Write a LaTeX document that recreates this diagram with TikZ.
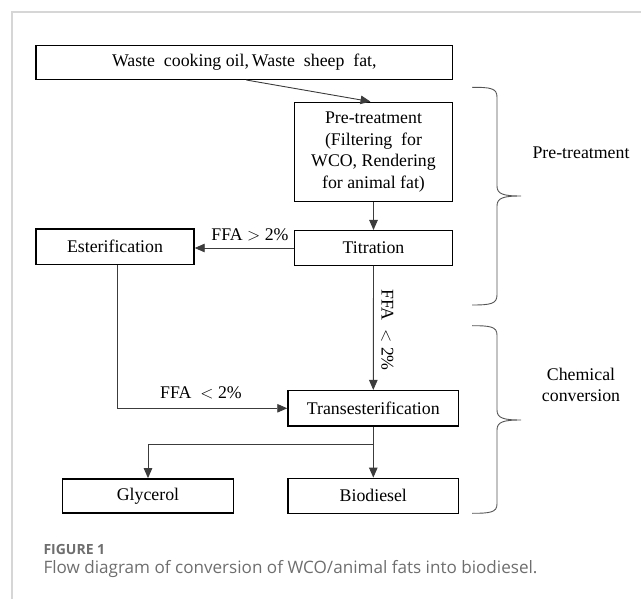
\documentclass[tikz,border=0pt]{standalone}
\usepackage{fontspec}
\setmainfont{Liberation Serif}
\newfontfamily\capfont{Open Sans}
\usetikzlibrary{arrows.meta,calc}
\definecolor{framegray}{HTML}{D6D6D6}
\definecolor{linegray}{HTML}{3C3C3C}
\definecolor{bracegray}{HTML}{555555}
\definecolor{capgray}{HTML}{6E6E6E}
\begin{document}
\begin{tikzpicture}[x=1pt,y=-1pt,
  box/.style={draw=black,line width=1.4pt,inner sep=0pt,align=center,
    font=\fontsize{17.8}{21.4}\selectfont},
  conn/.style={draw=linegray,line width=0.9pt},
  arr/.style={conn,-{Triangle[length=10pt,width=8.5pt]}},
  lbl/.style={font=\fontsize{17.8}{21.4}\selectfont,inner sep=0pt},
  bracestyle/.style={draw=bracegray,line width=0.9pt}]
\useasboundingbox (0,0) rectangle (641,599);
% panel frame
\draw[framegray,line width=1.2pt] (641,12) -- (12,12) -- (12,599);
% boxes
\node[box,minimum width=416.7pt,minimum height=33.6pt] (top) at (244.3,62.5) {Waste\ \ cooking\ oil,\,Waste\ \ sheep\ \ fat,};
\node[box,minimum width=158.4pt,minimum height=99.4pt] (pre) at (373.5,152) {Pre-treatment\\(Filtering\ \ for\\WCO, Rendering\\for animal fat)};
\node[box,minimum width=158.4pt,minimum height=34.6pt] (tit) at (373.5,248) {Titration};
\node[box,minimum width=158pt,minimum height=35.3pt] (est) at (115,246.7) {Esterification};
\node[box,minimum width=170.7pt,minimum height=35.3pt] (trans) at (373.3,408.3) {Transesterification};
\node[box,minimum width=170.6pt,minimum height=34.3pt] (gly) at (148,496) {Glycerol};
\node[box,minimum width=170.7pt,minimum height=35pt] (bio) at (373.3,495.8) {Biodiesel};
% connectors
\draw[arr] ([xshift=2pt]top.south) -- ([xshift=-3pt]pre.north);
\draw[arr] (pre.south) -- (tit.north);
\draw[arr] (tit.west) -- (tit.west -| est.east);
\draw[arr] (tit.south) -- (trans.north);
\draw[arr] ([xshift=2pt]est.south) |- (trans.west);
\coordinate (split) at ($(trans.south)+(0,18)$);
\draw[arr] (trans.south) -- (bio.north);
\draw[arr] (split) -| (gly.north);
% labels
\node[lbl] (l1) at (250,235) {FFA $>$ 2\%};
\node[lbl] (l2) at (201,392.7) {FFA\ \ $<$ 2\%};
\node[lbl,rotate=-90] (l3) at (387.3,330) {FFA\ \ $<$ 2\%};
% braces
\draw[bracestyle] (472,87.3) .. controls (490,87.3) and (497,88) .. (497,97)
  -- (497,186) .. controls (497,194) and (503,196) .. (521,196)
  .. controls (503,196) and (497,198) .. (497,206)
  -- (497,295) .. controls (497,304) and (490,305) .. (472,305);
\draw[bracestyle] (472,325.7) .. controls (490,325.7) and (497,326.5) .. (497,335)
  -- (497,410) .. controls (497,418) and (503,420) .. (521,420)
  .. controls (503,420) and (497,422) .. (497,430)
  -- (497,504) .. controls (497,512.5) and (490,513.3) .. (472,513.3);
\node[lbl] (g1) at (581,152.7) {Pre-treatment};
\node[lbl,align=center] (g2) at (581,385) {Chemical\\conversion};
% caption
\node[anchor=base west,inner sep=0pt,text=capgray,font=\capfont\bfseries\fontsize{14}{16}\selectfont] (fig) at (43.3,554) {FIGURE 1};
\node[anchor=base west,inner sep=0pt,text=capgray,font=\capfont\fontsize{17.1}{20}\selectfont] (cap) at (43.3,573) {Flow diagram of conversion of WCO/animal fats into biodiesel.};
\end{tikzpicture}
\end{document}
